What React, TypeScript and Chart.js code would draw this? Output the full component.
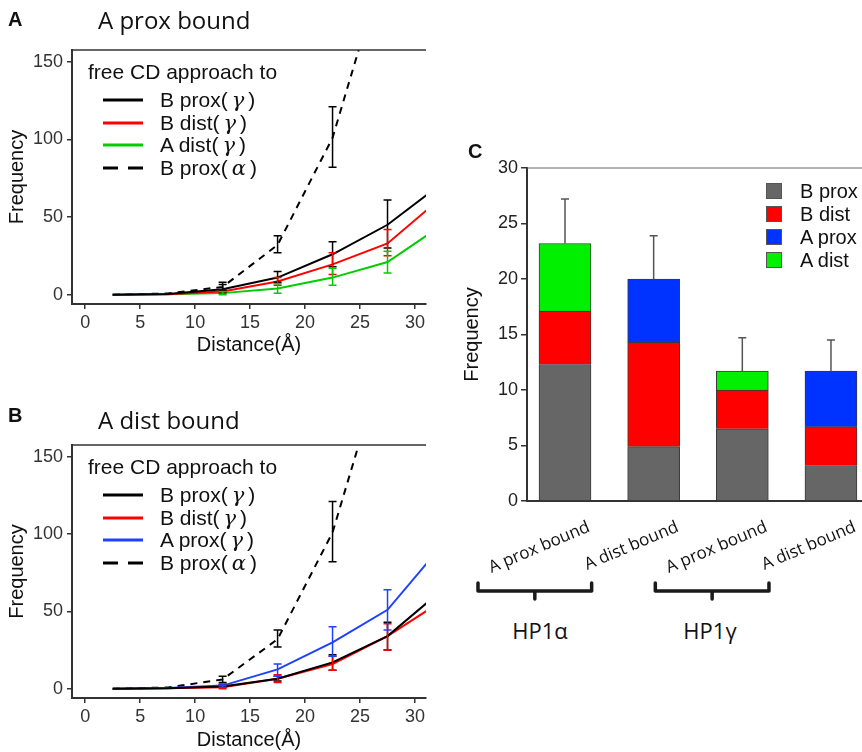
import React, { useEffect, useRef } from 'react';
import { Chart, registerables } from 'chart.js';

Chart.register(...registerables);

const SANS = "'Liberation Sans', Arial, Helvetica, sans-serif";
const HUMANIST = "'Open Sans', 'Noto Sans', sans-serif";

// ---------- Panels A & B (shared axes) ----------
const distances = [2.5, 7.5, 12.5, 17.5, 22.5, 27.5, 32.5];
const distanceTicks = [0, 5, 10, 15, 20, 25, 30];
const frequencyTicks = [0, 50, 100, 150];

// Panel A: A prox bound
const aBProxGamma = [0, 0.5, 3.5, 11, 26, 45, 72];
const aBProxGammaLo = [null, null, 1.5, 8, 18, 30, null];
const aBProxGammaHi = [null, null, 6.5, 15, 34, 61, null];
const aBDistGamma = [0, 0.3, 2, 8.5, 19.5, 33, 63];
const aBDistGammaLo = [null, null, 1, 6, 13, 25, null];
const aBDistGammaHi = [null, null, 3, 11, 27, 42, null];
const aADistGamma = [0, 0.2, 1, 4, 11, 21, 45];
const aADistGammaLo = [null, null, 0, 1, 6, 14, null];
const aADistGammaHi = [null, null, 2, 7, 17, 28, null];
const aBProxAlpha = [0, 0.8, 5, 32, 101, 220, 330];
const aBProxAlphaLo = [null, null, 3, 27, 82, null, null];
const aBProxAlphaHi = [null, null, 8, 38, 121, null, null];

// Panel B: A dist bound
const bBProxGamma = [0, 0.3, 1.5, 6.5, 17, 34, 64];
const bBProxGammaLo = [null, null, 1, 5, 12, 25, null];
const bBProxGammaHi = [null, null, 2.5, 8, 22, 43, null];
const bBDistGamma = [0, 0.3, 1, 6.5, 16, 34, 57];
const bBDistGammaLo = [null, null, 0, 4, 12, 25, null];
const bBDistGammaHi = [null, null, 2, 9, 21, 42, null];
const bAProxGamma = [0, 0.5, 2, 12.5, 30, 51, 93];
const bAProxGammaLo = [null, null, 1, 8, 21, 38, null];
const bAProxGammaHi = [null, null, 3, 16, 40, 64, null];
const bBProxAlpha = [0, 0.8, 6, 32, 101, 220, 330];
const bBProxAlphaLo = [null, null, 4, 27, 82, null, null];
const bBProxAlphaHi = [null, null, 8, 38, 121, null, null];

// ---------- Panel C ----------
const cCategories = ['A prox bound', 'A dist bound', 'A prox bound', 'A dist bound'];
const cGroups = ['HP1α', 'HP1γ'];
const cBProx = [12.3, 4.9, 6.5, 3.2];
const cBDist = [4.8, 9.4, 3.5, 3.5];
const cAProx = [0, 5.7, 0, 5.0];
const cADist = [6.1, 0, 1.7, 0];
const cErrUpper = [27.2, 23.9, 14.7, 14.5];
const cTicks = [0, 5, 10, 15, 20, 25, 30];

const BLACK = '#000000';
const RED = '#ff0000';
const GREEN = '#00cd00';
const BLUE = '#2040ff';

const C_GRAY = '#666666';
const C_RED = '#ff0000';
const C_BLUE = '#0033ff';
const C_GREEN = '#00f000';

const lineErrorBars = {
  id: 'lineErrorBars',
  afterDatasetsDraw(chart: any) {
    const { ctx, chartArea, scales } = chart;
    const x = scales.x;
    const y = scales.y;
    ctx.save();
    ctx.beginPath();
    ctx.rect(chartArea.left, chartArea.top, chartArea.right - chartArea.left, chartArea.bottom - chartArea.top);
    ctx.clip();
    chart.data.datasets.forEach((ds: any) => {
      if (!ds.errLo) return;
      ctx.strokeStyle = ds.borderColor;
      ctx.lineWidth = 1.5;
      ctx.setLineDash([]);
      ds.errLo.forEach((lo: number | null, i: number) => {
        const hi = ds.errHi[i];
        if (lo == null || hi == null) return;
        const px = x.getPixelForValue(distances[i]);
        const pLo = y.getPixelForValue(lo);
        const pHi = y.getPixelForValue(hi);
        ctx.beginPath();
        ctx.moveTo(px, pLo);
        ctx.lineTo(px, pHi);
        ctx.moveTo(px - 4, pLo);
        ctx.lineTo(px + 4, pLo);
        ctx.moveTo(px - 4, pHi);
        ctx.lineTo(px + 4, pHi);
        ctx.stroke();
      });
    });
    ctx.restore();
  },
};

const topBorder = {
  id: 'topBorder',
  afterDraw(chart: any) {
    const { ctx, chartArea } = chart;
    const o = chart.options.plugins.topBorder || {};
    ctx.save();
    ctx.strokeStyle = o.color || '#333';
    ctx.lineWidth = o.width || 1.5;
    ctx.beginPath();
    ctx.moveTo(chartArea.left, chartArea.top);
    ctx.lineTo(chartArea.right, chartArea.top);
    ctx.stroke();
    ctx.restore();
  },
};

type Series = { label: string; values: number[]; lo: (number | null)[]; hi: (number | null)[]; color: string; dashed?: boolean };

function makeLineChart(canvas: HTMLCanvasElement, series: Series[], xAxisHeight: number, titlePadBottom: number) {
  return new Chart(canvas, {
    type: 'line',
    data: {
      datasets: series.map((s) => ({
        label: s.label,
        data: distances.map((d, i) => ({ x: d, y: s.values[i] })),
        borderColor: s.color,
        backgroundColor: s.color,
        borderWidth: 2,
        borderDash: s.dashed ? [7, 6] : [],
        pointRadius: 0,
        tension: 0,
        fill: false,
        errLo: s.lo,
        errHi: s.hi,
      })) as any,
    },
    options: {
      animation: false,
      responsive: false,
      devicePixelRatio: 1,
      layout: { padding: { top: 50, right: 14, left: 0, bottom: 0 } },
      plugins: { legend: { display: false }, tooltip: { enabled: false }, topBorder: { color: '#333', width: 1.5 } } as any,
      scales: {
        x: {
          type: 'linear',
          offset: false,
          min: -1.2,
          max: 31,
          afterBuildTicks: (s: any) => {
            s.ticks = distanceTicks.map((v) => ({ value: v }));
          },
          afterFit: (s: any) => {
            s.height = xAxisHeight;
          },
          border: { display: true, color: '#333', width: 2 },
          grid: { display: true, offset: false, drawOnChartArea: false, drawTicks: true, tickLength: 5, color: '#333', lineWidth: 1.5 },
          ticks: { font: { family: SANS, size: 18 }, color: '#333', padding: 3, maxRotation: 0, autoSkip: false },
          title: { display: true, text: 'Distance(Å)', font: { family: SANS, size: 20 }, color: '#111', padding: { top: 0, bottom: titlePadBottom } },
        },
        y: {
          type: 'linear',
          min: -6,
          max: 157.5,
          afterBuildTicks: (s: any) => {
            s.ticks = frequencyTicks.map((v) => ({ value: v }));
          },
          afterFit: (s: any) => {
            s.width = 72;
          },
          border: { display: true, color: '#333', width: 2 },
          grid: { display: true, drawOnChartArea: false, drawTicks: true, tickLength: 5, color: '#333', lineWidth: 1.5 },
          ticks: { font: { family: SANS, size: 18 }, color: '#333', padding: 4 },
          title: { display: true, text: 'Frequency', font: { family: SANS, size: 20 }, color: '#111', padding: { top: 5, bottom: 0 } },
        },
      },
    } as any,
    plugins: [lineErrorBars, topBorder],
  });
}

const barErrorBars = {
  id: 'barErrorBars',
  afterDatasetsDraw(chart: any) {
    const { ctx, scales } = chart;
    const x = scales.x;
    const y = scales.y;
    ctx.save();
    ctx.strokeStyle = '#555';
    ctx.lineWidth = 1.5;
    cErrUpper.forEach((up, i) => {
      const total = cBProx[i] + cBDist[i] + cAProx[i] + cADist[i];
      const px = x.getPixelForValue(i);
      const p0 = y.getPixelForValue(total);
      const p1 = y.getPixelForValue(up);
      ctx.beginPath();
      ctx.moveTo(px, p0);
      ctx.lineTo(px, p1);
      ctx.moveTo(px - 4, p1);
      ctx.lineTo(px + 4, p1);
      ctx.stroke();
    });
    ctx.restore();
  },
};

const groupBraces = {
  id: 'groupBraces',
  afterDraw(chart: any) {
    const { ctx, scales } = chart;
    const x = scales.x;
    const top = chart.chartArea.bottom + 82;
    ctx.save();
    ctx.strokeStyle = '#1a1a1a';
    ctx.lineWidth = 3.5;
    ctx.lineJoin = 'round';
    ctx.lineCap = 'round';
    cGroups.forEach((_, g) => {
      const left = x.getPixelForValue(g * 2) - 87;
      const right = x.getPixelForValue(g * 2 + 1) - 62;
      const mid = (left + right) / 2;
      ctx.beginPath();
      ctx.moveTo(left, top);
      ctx.lineTo(left, top + 8);
      ctx.lineTo(right, top + 8);
      ctx.lineTo(right, top);
      ctx.moveTo(mid, top + 8);
      ctx.lineTo(mid, top + 16);
      ctx.stroke();
    });
    ctx.restore();
  },
};

function makeBarChart(canvas: HTMLCanvasElement) {
  const seg = (label: string, vals: number[], color: string) => ({
    label,
    data: vals.map((v, i) => ({ x: i, y: v === 0 ? null : v })),
    backgroundColor: color,
    borderColor: '#3a3a3a',
    borderWidth: 1,
    barThickness: 52,
  });
  return new Chart(canvas, {
    type: 'bar',
    data: {
      datasets: [
        seg('B prox', cBProx, C_GRAY),
        seg('B dist', cBDist, C_RED),
        seg('A prox', cAProx, C_BLUE),
        seg('A dist', cADist, C_GREEN),
      ] as any,
    },
    options: {
      animation: false,
      responsive: false,
      devicePixelRatio: 1,
      layout: { padding: { top: 38, left: 0, right: 0, bottom: 0 } },
      plugins: { legend: { display: false }, tooltip: { enabled: false }, topBorder: { color: '#666', width: 1 } } as any,
      scales: {
        x: {
          type: 'linear',
          offset: false,
          stacked: true,
          min: -0.4286,
          max: 3.35,
          afterBuildTicks: (s: any) => {
            s.ticks = cCategories.map((_, i) => ({ value: i }));
          },
          afterFit: (s: any) => {
            s.height = 104;
          },
          grid: { display: false, offset: false },
          border: { display: true, color: '#333', width: 2 },
          ticks: {
            autoSkip: false,
            minRotation: 23,
            maxRotation: 23,
            padding: 8,
            labelOffset: 24,
            font: { family: HUMANIST, size: 17 },
            color: '#111',
            callback: (_v: any, i: number) => cCategories[i],
          },
        },
        y: {
          type: 'linear',
          stacked: true,
          min: 0,
          max: 30,
          afterBuildTicks: (s: any) => {
            s.ticks = cTicks.map((v) => ({ value: v }));
          },
          afterFit: (s: any) => {
            s.width = 87;
          },
          border: { display: true, color: '#333', width: 2 },
          grid: { display: true, drawOnChartArea: false, drawTicks: true, tickLength: 6, color: '#333', lineWidth: 1.5 },
          ticks: { font: { family: SANS, size: 18 }, color: '#222', padding: 3 },
          title: { display: true, text: 'Frequency', font: { family: SANS, size: 20 }, color: '#111', padding: { top: 20, bottom: 0 } },
        },
      },
    } as any,
    plugins: [barErrorBars, topBorder, groupBraces],
  });
}

function Txt(props: { x: number; y: number; size: number; family?: string; weight?: any; center?: boolean; children: any }) {
  return (
    <div
      style={{
        position: 'absolute',
        left: props.x,
        top: props.y,
        transform: props.center ? 'translate(-50%, -50%)' : 'translateY(-50%)',
        fontSize: props.size,
        fontFamily: props.family || SANS,
        fontWeight: props.weight || 'normal',
        lineHeight: 1,
        whiteSpace: 'nowrap',
        color: '#111',
      }}
    >
      {props.children}
    </div>
  );
}

function Greek({ ch }: { ch: string }) {
  return (
    <span style={{ fontFamily: "'DejaVu Serif', 'Liberation Serif', serif", fontStyle: 'italic', margin: '0 4px' }}>{ch}</span>
  );
}

function LegendLine({ x1, x2, y, color, dashed }: { x1: number; x2: number; y: number; color: string; dashed?: boolean }) {
  return (
    <svg style={{ position: 'absolute', left: x1, top: y - 3, overflow: 'visible' }} width={x2 - x1} height={6}>
      <line x1={0} y1={3} x2={x2 - x1} y2={3} stroke={color} strokeWidth={3} strokeDasharray={dashed ? '15 10' : undefined} />
    </svg>
  );
}

type LegendEntry = { name: string; greek: string; color: string; dashed?: boolean };

function LineLegend({ top, entries }: { top: number; entries: LegendEntry[] }) {
  return (
    <>
      <Txt x={88} y={top} size={21}>free CD approach to</Txt>
      {entries.map((e, i) => {
        const y = top + 29 + i * 22.7;
        return (
          <React.Fragment key={i}>
            <LegendLine x1={103} x2={143} y={y} color={e.color} dashed={e.dashed} />
            <Txt x={160} y={y} size={21}>
              {e.name}(<Greek ch={e.greek} />)
            </Txt>
          </React.Fragment>
        );
      })}
    </>
  );
}

export default function App() {
  const aRef = useRef<HTMLCanvasElement>(null);
  const bRef = useRef<HTMLCanvasElement>(null);
  const cRef = useRef<HTMLCanvasElement>(null);

  useEffect(() => {
    const a = makeLineChart(aRef.current!, [
      { label: 'B prox(γ)', values: aBProxGamma, lo: aBProxGammaLo, hi: aBProxGammaHi, color: BLACK },
      { label: 'B dist(γ)', values: aBDistGamma, lo: aBDistGammaLo, hi: aBDistGammaHi, color: RED },
      { label: 'A dist(γ)', values: aADistGamma, lo: aADistGammaLo, hi: aADistGammaHi, color: GREEN },
      { label: 'B prox(α)', values: aBProxAlpha, lo: aBProxAlphaLo, hi: aBProxAlphaHi, color: BLACK, dashed: true },
    ], 56, 3);
    const b = makeLineChart(bRef.current!, [
      { label: 'B prox(γ)', values: bBProxGamma, lo: bBProxGammaLo, hi: bBProxGammaHi, color: BLACK },
      { label: 'B dist(γ)', values: bBDistGamma, lo: bBDistGammaLo, hi: bBDistGammaHi, color: RED },
      { label: 'A prox(γ)', values: bAProxGamma, lo: bAProxGammaLo, hi: bAProxGammaHi, color: BLUE },
      { label: 'B prox(α)', values: bBProxAlpha, lo: bBProxAlphaLo, hi: bBProxAlphaHi, color: BLACK, dashed: true },
    ], 54, 0);
    const c = makeBarChart(cRef.current!);
    return () => {
      a.destroy();
      b.destroy();
      c.destroy();
    };
  }, []);

  const cLegend = [
    { name: 'B prox', color: C_GRAY },
    { name: 'B dist', color: C_RED },
    { name: 'A prox', color: C_BLUE },
    { name: 'A dist', color: C_GREEN },
  ];

  return (
    <div style={{ position: 'absolute', left: 0, top: 0, width: 862, height: 752, overflow: 'hidden', background: '#fff' }}>
      <canvas ref={aRef} width={440} height={360} style={{ position: 'absolute', left: 0, top: 0 }} />
      <canvas ref={bRef} width={440} height={357} style={{ position: 'absolute', left: 0, top: 395 }} />
      <canvas ref={cRef} width={422} height={475} style={{ position: 'absolute', left: 440, top: 130 }} />

      <Txt x={8} y={19} size={20} weight="bold">A</Txt>
      <Txt x={98} y={20} size={24} family={HUMANIST}>A prox bound</Txt>
      <LineLegend
        top={71}
        entries={[
          { name: 'B prox', greek: 'γ', color: BLACK },
          { name: 'B dist', greek: 'γ', color: RED },
          { name: 'A dist', greek: 'γ', color: GREEN },
          { name: 'B prox', greek: 'α', color: BLACK, dashed: true },
        ]}
      />

      <Txt x={8} y={415} size={20} weight="bold">B</Txt>
      <Txt x={98} y={420} size={24} family={HUMANIST}>A dist bound</Txt>
      <LineLegend
        top={466}
        entries={[
          { name: 'B prox', greek: 'γ', color: BLACK },
          { name: 'B dist', greek: 'γ', color: RED },
          { name: 'A prox', greek: 'γ', color: BLUE },
          { name: 'B prox', greek: 'α', color: BLACK, dashed: true },
        ]}
      />

      <Txt x={468} y={151} size={20} weight="bold">C</Txt>
      {cLegend.map((e, i) => (
        <React.Fragment key={i}>
          <div style={{ position: 'absolute', left: 766, top: 183 + i * 23, width: 16, height: 16, background: e.color, boxSizing: 'border-box', border: '1px solid #555' }} />
          <Txt x={800} y={191 + i * 23} size={20}>{e.name}</Txt>
        </React.Fragment>
      ))}
      <Txt x={540} y={630} size={22} family={HUMANIST} center>{cGroups[0]}</Txt>
      <Txt x={710} y={630} size={22} family={HUMANIST} center>{cGroups[1]}</Txt>
    </div>
  );
}
